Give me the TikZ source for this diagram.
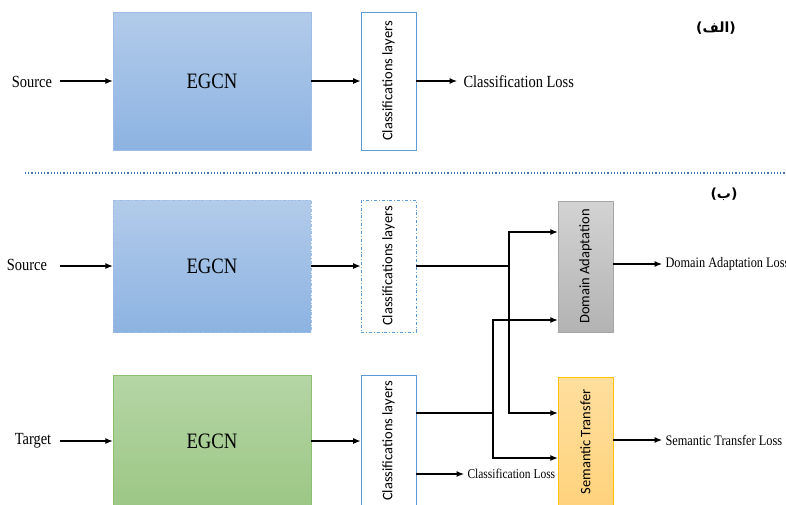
\documentclass[tikz,border=0pt]{standalone}
\usepackage{fontspec}
\setmainfont{Liberation Serif}[FakeStretch=0.85]
\newfontfamily\clsfont{Carlito}
\newfontfamily\arabicfont[Script=Arabic]{DejaVu Sans}
\TeXXeTstate=1
\usetikzlibrary{arrows.meta}

\definecolor{egcnTop}{HTML}{B2CBEA}
\definecolor{egcnBot}{HTML}{8DB3E2}
\definecolor{egcnLine}{HTML}{9DBDE6}
\definecolor{tgtTop}{HTML}{B5D5A5}
\definecolor{tgtBot}{HTML}{9CC785}
\definecolor{tgtLine}{HTML}{8CBF70}
\definecolor{clsLine}{HTML}{5B9BD5}
\definecolor{daTop}{HTML}{D3D3D3}
\definecolor{daBot}{HTML}{B3B3B3}
\definecolor{daLine}{HTML}{A6A6A6}
\definecolor{stTop}{HTML}{FFDF9E}
\definecolor{stBot}{HTML}{FFD27C}
\definecolor{stLine}{HTML}{FFC000}
\definecolor{sepLine}{HTML}{4472C4}

\tikzset{
  arr/.style={line width=1.1pt, -{Latex[length=7.5pt,width=6pt]}},
  wire/.style={line width=1.1pt},
  egcn/.style={draw=egcnLine, top color=egcnTop, bottom color=egcnBot,
    minimum width=198pt, minimum height=136pt, font=\fontsize{22}{24}\selectfont},
  egcntgt/.style={egcn, draw=tgtLine, top color=tgtTop, bottom color=tgtBot},
  clsbox/.style={draw=clsLine, fill=white, line width=0.8pt,
    minimum width=55pt, minimum height=136pt},
  vtext/.style={rotate=90, font=\clsfont\fontsize{14.5}{16}\selectfont},
  lbl/.style={font=\fontsize{17}{19}\selectfont},
  loss/.style={anchor=west, font=\fontsize{14.5}{16}\selectfont}
}

\begin{document}
\begin{tikzpicture}[x=1pt, y=-1pt]
\useasboundingbox (0,0) rectangle (786,504);
\clip (0,0) rectangle (786,504);

% (alef) single domain
\path (32,82) node (srcA) [lbl] {Source};
\path (212,81) node (egcnA) [egcn, minimum height=138pt] {EGCN};
\path (388.5,81) node (clsA) [clsbox, minimum height=138pt,
  label={[vtext]center:Classifications layers}] {};
\path (460,82) node (lossA) [loss, font=\fontsize{17}{19}\selectfont] {Classification Loss};
\path (716,28) node (tagA) {\arabicfont\bfseries\fontsize{14}{16}\selectfont\beginR(الف)\endR};
\draw[arr, shorten <=4pt] (egcnA.west -| srcA.east) -- (egcnA.west);
\draw[arr] (egcnA) -- (clsA);
\draw[arr, shorten >=3pt] (clsA) -- (clsA -| lossA.west);

% separator
\path (25,173) coordinate (sepL) (786,173) coordinate (sepR);
\draw[sepLine, dotted, line width=1.2pt] (sepL) -- (sepR);
\path (724,194) node (tagB) {\arabicfont\bfseries\fontsize{14}{16}\selectfont\beginR(ب)\endR};

% (be) source branch
\path (27,265) node (srcB) [lbl] {Source};
\path (212,266) node (egcnS) [egcn, dash dot, minimum height=132pt] {EGCN};
\path (388.5,266) node (clsS) [clsbox, dash dot, minimum height=132pt,
  label={[vtext]center:Classifications layers}] {};

% (be) target branch
\path (33,441) node (tgtB) [lbl] {Target};
\path (212,441) node (egcnT) [egcntgt, minimum height=132pt] {EGCN};
\path (388.5,441) node (clsT) [clsbox, minimum height=132pt,
  label={[vtext]center:Classifications layers}] {};

% transfer blocks
\path (585.5,266.5) node (da) [draw=daLine, top color=daTop, bottom color=daBot,
  minimum width=55pt, minimum height=131pt,
  label={[vtext]center:Domain Adaptation}] {};
\path (585.5,442) node (st) [draw=stLine, top color=stTop, bottom color=stBot,
  minimum width=55pt, minimum height=130pt,
  label={[vtext]center:Semantic Transfer}] {};
\path (662,264) node (lossDA) [loss] {Domain Adaptation Loss};
\path (662,440) node (lossST) [loss] {Semantic Transfer Loss};
\path (464,474) node (lossC) [loss, font=\fontsize{13.5}{15}\selectfont] {Classification Loss};

\draw[arr, shorten <=9pt] (egcnS.west -| srcB.east) -- (egcnS.west);
\draw[arr] (egcnS) -- (clsS);
\draw[arr, shorten <=5pt] (egcnT.west -| tgtB.east) -- (egcnT.west);
\draw[arr] (egcnT) -- (clsT);

% junctions
\path (509,266) coordinate (jS) (493,413) coordinate (jT);
\draw[wire] (clsS) -- (jS);
\draw[wire] (clsT.east |- jT) -- (jT);
\draw[arr] (jS) |- (da.west |- 0,232);
\draw[arr] (jS) |- (st.west |- jT);
\draw[arr] (jT) |- (da.west |- 0,320);
\draw[arr] (jT) |- (st.west |- 0,458);
\draw[arr] (clsT.east |- lossC) -- (lossC);
\draw[arr] (da.east |- lossDA) -- (lossDA);
\draw[arr] (st.east |- lossST) -- (lossST);
\end{tikzpicture}
\end{document}
